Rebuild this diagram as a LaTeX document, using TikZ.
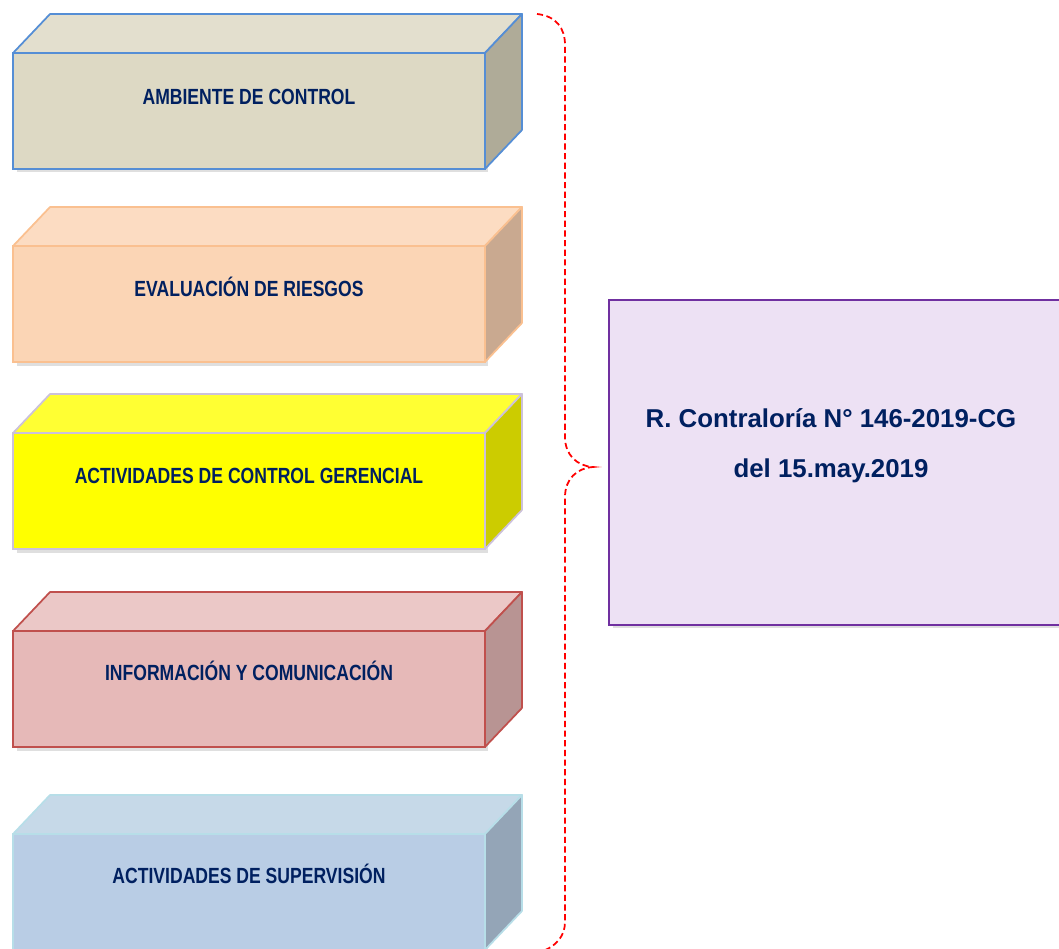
\documentclass[tikz,border=0pt]{standalone}
\usepackage{fontspec}
\setmainfont{Liberation Sans}
\newfontfamily\angosta[FakeStretch=0.8]{Liberation Sans}
\usetikzlibrary{shadows}

\definecolor{azul}{HTML}{002060}
\definecolor{ambF}{HTML}{DDD9C4}
\definecolor{ambT}{HTML}{E3DFCE}
\definecolor{ambS}{HTML}{AFAB98}
\definecolor{ambB}{HTML}{558ED5}
\definecolor{evaF}{HTML}{FBD5B5}
\definecolor{evaT}{HTML}{FCDCC2}
\definecolor{evaS}{HTML}{C9A990}
\definecolor{evaB}{HTML}{FAC090}
\definecolor{actF}{HTML}{FFFF00}
\definecolor{actT}{HTML}{FFFF33}
\definecolor{actS}{HTML}{CCCC00}
\definecolor{actB}{HTML}{CCC1DA}
\definecolor{infF}{HTML}{E6B9B8}
\definecolor{infT}{HTML}{EBC8C7}
\definecolor{infS}{HTML}{B89493}
\definecolor{infB}{HTML}{C0504D}
\definecolor{supF}{HTML}{B9CDE5}
\definecolor{supT}{HTML}{C6D9E8}
\definecolor{supS}{HTML}{94A5B7}
\definecolor{supB}{HTML}{B7DEE8}
\definecolor{normaF}{HTML}{EDE1F4}
\definecolor{normaB}{HTML}{7030A0}

\tikzset{
  frente/.style={rectangle, inner sep=0pt, outer sep=0pt, line width=1pt,
    minimum width=9.44cm, minimum height=2.32cm,
    drop shadow={opacity=0.25, shadow xshift=2pt, shadow yshift=-2pt}},
  cara/.style={line width=1pt, line join=round},
  etiqueta/.style={font=\angosta\bfseries\fontsize{12.5}{14}\selectfont, text=azul,
    text height=9pt, text depth=0pt, inner sep=0pt},
  llave/.style={red, line width=1pt, dash pattern=on 3.5pt off 2pt}
}

\begin{document}
\begin{tikzpicture}[x=0.02cm, y=-0.02cm]
      \useasboundingbox (0,0) rectangle (1059,949);
      % caja 1
      \node[frente, fill=ambF, draw=ambB] (amb) at (249,111) {};
      \filldraw[cara, fill=ambT, draw=ambB] (amb.north west) -- ++(37,-39) -- ++(472,0) -- (amb.north east) -- cycle;
      \filldraw[cara, fill=ambS, draw=ambB] (amb.north east) -- ++(37,-39) -- ++(0,116) -- (amb.south east) -- cycle;
      \node[etiqueta] (amb-t) at ([yshift=0.28cm]amb.center) {AMBIENTE DE CONTROL};
      % caja 2
      \node[frente, fill=evaF, draw=evaB] (eva) at (249,304) {};
      \filldraw[cara, fill=evaT, draw=evaB] (eva.north west) -- ++(37,-39) -- ++(472,0) -- (eva.north east) -- cycle;
      \filldraw[cara, fill=evaS, draw=evaB] (eva.north east) -- ++(37,-39) -- ++(0,116) -- (eva.south east) -- cycle;
      \node[etiqueta] (eva-t) at ([yshift=0.30cm]eva.center) {EVALUACIÓN DE RIESGOS};
      % caja 3
      \node[frente, fill=actF, draw=actB] (act) at (249,491) {};
      \filldraw[cara, fill=actT, draw=actB] (act.north west) -- ++(37,-39) -- ++(472,0) -- (act.north east) -- cycle;
      \filldraw[cara, fill=actS, draw=actB] (act.north east) -- ++(37,-39) -- ++(0,116) -- (act.south east) -- cycle;
      \node[etiqueta] (act-t) at ([yshift=0.30cm]act.center) {ACTIVIDADES DE CONTROL GERENCIAL};
      % caja 4
      \node[frente, fill=infF, draw=infB] (inf) at (249,689) {};
      \filldraw[cara, fill=infT, draw=infB] (inf.north west) -- ++(37,-39) -- ++(472,0) -- (inf.north east) -- cycle;
      \filldraw[cara, fill=infS, draw=infB] (inf.north east) -- ++(37,-39) -- ++(0,116) -- (inf.south east) -- cycle;
      \node[etiqueta] (inf-t) at ([yshift=0.32cm]inf.center) {INFORMACIÓN Y COMUNICACIÓN};
      % caja 5
      \node[frente, fill=supF, draw=supB] (sup) at (249,892) {};
      \filldraw[cara, fill=supT, draw=supB] (sup.north west) -- ++(37,-39) -- ++(472,0) -- (sup.north east) -- cycle;
      \filldraw[cara, fill=supS, draw=supB] (sup.north east) -- ++(37,-39) -- ++(0,116) -- (sup.south east) -- cycle;
      \node[etiqueta] (sup-t) at ([yshift=0.32cm]sup.center) {ACTIVIDADES DE SUPERVISIÓN};
      % norma
      \node[rectangle, fill=normaF, draw=normaB, line width=1.1pt, minimum width=9.06cm, minimum height=6.5cm,
        drop shadow={opacity=0.25, shadow xshift=2pt, shadow yshift=-2pt}] (norma) at (835.5,462.5) {};
      \node[font=\bfseries\fontsize{14.7}{28.3}\selectfont, text=azul, align=center] (norma-t) at (831,446)
        {R. Contraloría N° 146-2019-CG\\del 15.may.2019};
      % llave
      \coordinate (ll-a) at (537,14);
      \coordinate (ll-p) at (593,467);
      \coordinate (ll-b) at (540,952);
      \draw[llave] (ll-a) .. controls (556,16) and (565,28) .. (565,45) -- (565,437)
        .. controls (565,455) and (577,466) .. (ll-p)
        .. controls (577,468) and (565,479) .. (565,497) -- (565,922)
        .. controls (565,936) and (556,947) .. (ll-b);
    \end{tikzpicture}
\end{document}
